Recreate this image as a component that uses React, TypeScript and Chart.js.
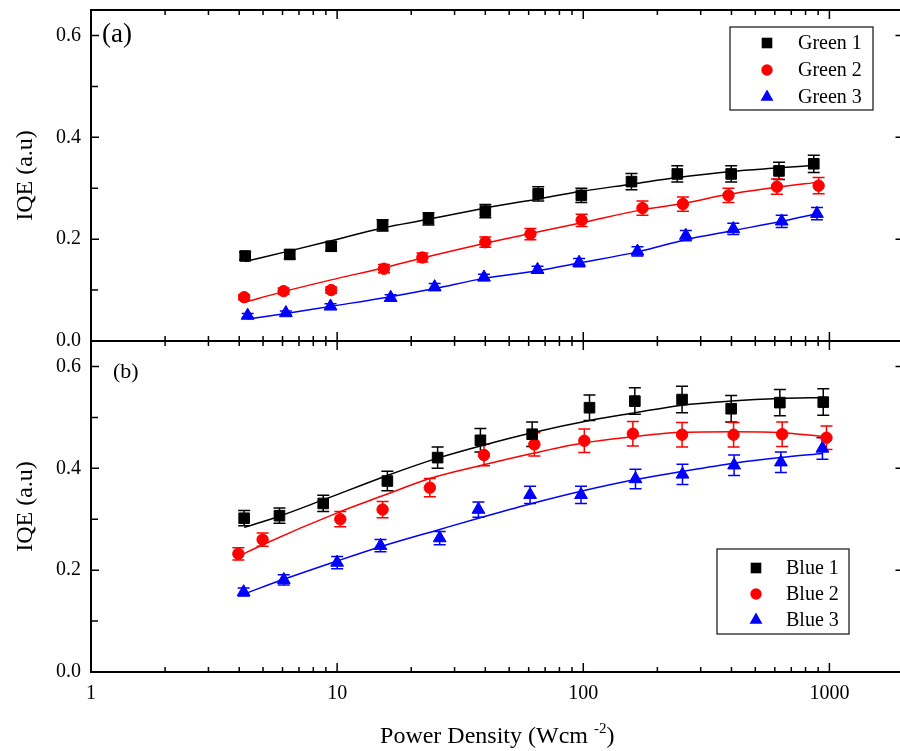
import React, { useEffect, useRef } from 'react';
import { Chart, registerables } from 'chart.js';

Chart.register(...registerables);

// ---------- data ----------
const xTickValues = [1, 10, 100, 1000];
const yTickValues = [0, 0.2, 0.4, 0.6];

// Panel (a)
const green1X = [4.23, 6.42, 9.46, 15.3, 23.5, 40.0, 65.6, 98.2, 157, 241, 399, 624, 864];
const green1Y = [0.167, 0.170, 0.186, 0.227, 0.240, 0.255, 0.289, 0.286, 0.313, 0.328, 0.328, 0.334, 0.348];
const green1Err = [0.008, 0.009, 0.009, 0.011, 0.012, 0.013, 0.014, 0.014, 0.016, 0.016, 0.016, 0.017, 0.017];
const green1Fit = [0.156, 0.177, 0.197, 0.222, 0.239, 0.261, 0.279, 0.294, 0.308, 0.321, 0.333, 0.340, 0.345];

const green2X = [4.19, 6.06, 9.46, 15.5, 22.2, 40.0, 61.0, 98.5, 174, 254, 389, 612, 904];
const green2Y = [0.086, 0.098, 0.100, 0.142, 0.164, 0.194, 0.210, 0.237, 0.261, 0.269, 0.286, 0.303, 0.305];
const green2Err = [0.005, 0.006, 0.006, 0.008, 0.009, 0.010, 0.011, 0.012, 0.014, 0.014, 0.014, 0.015, 0.016];
const green2Fit = [0.076, 0.097, 0.120, 0.144, 0.163, 0.192, 0.211, 0.232, 0.258, 0.270, 0.288, 0.302, 0.312];

const green3X = [4.33, 6.19, 9.40, 16.5, 24.9, 39.5, 65.2, 96.2, 166, 261, 407, 640, 890];
const green3Y = [0.050, 0.055, 0.068, 0.085, 0.106, 0.125, 0.140, 0.154, 0.176, 0.207, 0.220, 0.235, 0.250];
const green3Err = [0.004, 0.004, 0.005, 0.006, 0.007, 0.006, 0.007, 0.008, 0.009, 0.010, 0.011, 0.012, 0.012];
const green3Fit = [0.043, 0.054, 0.068, 0.087, 0.103, 0.123, 0.138, 0.153, 0.175, 0.199, 0.217, 0.235, 0.250];

// Panel (b)
const blue1X = [4.19, 5.83, 8.78, 16.0, 25.6, 38.2, 62.0, 106, 162, 252, 399, 629, 944];
const blue1Y = [0.302, 0.307, 0.331, 0.375, 0.421, 0.455, 0.467, 0.519, 0.532, 0.535, 0.517, 0.529, 0.530];
const blue1Err = [0.015, 0.015, 0.016, 0.019, 0.021, 0.023, 0.024, 0.025, 0.026, 0.026, 0.026, 0.026, 0.026];
const blue1Fit = [0.284, 0.306, 0.338, 0.386, 0.420, 0.444, 0.470, 0.494, 0.509, 0.524, 0.532, 0.537, 0.539];

const blue2X = [3.97, 4.98, 10.3, 15.3, 23.8, 39.5, 63.3, 101, 159, 252, 408, 643, 973];
const blue2Y = [0.232, 0.260, 0.300, 0.319, 0.362, 0.426, 0.447, 0.454, 0.468, 0.466, 0.466, 0.467, 0.460];
const blue2Err = [0.012, 0.013, 0.015, 0.016, 0.018, 0.021, 0.023, 0.023, 0.024, 0.024, 0.024, 0.024, 0.023];
const blue2Fit = [0.227, 0.250, 0.315, 0.346, 0.380, 0.407, 0.430, 0.450, 0.462, 0.471, 0.472, 0.470, 0.462];

const blue3X = [4.17, 6.07, 10.0, 15.0, 26.1, 37.5, 60.8, 97.9, 163, 253, 410, 635, 937];
const blue3Y = [0.157, 0.181, 0.215, 0.248, 0.263, 0.319, 0.348, 0.348, 0.379, 0.388, 0.406, 0.412, 0.439];
const blue3Err = [0.008, 0.010, 0.012, 0.012, 0.013, 0.015, 0.017, 0.017, 0.019, 0.020, 0.020, 0.020, 0.021];
const blue3Fit = [0.153, 0.182, 0.218, 0.246, 0.280, 0.302, 0.330, 0.355, 0.378, 0.394, 0.410, 0.421, 0.429];

const legendA = ['Green 1', 'Green 2', 'Green 3'];
const legendB = ['Blue 1', 'Blue 2', 'Blue 3'];

// ---------- styling ----------
const FONT = "'Liberation Serif', 'Times New Roman', serif";
const COLORS = ['#000000', '#ff0000', '#0000ff'];
const STYLES = ['rect', 'circle', 'triangle'] as const;
const RADII = [7.5, 5.7, 7.4];
const CW = 912;
const CH = 751;
const AREA_RIGHT = 906;

const pts = (xs: number[], ys: number[]) => xs.map((x, i) => ({ x, y: ys[i] }));

function drawMarker(ctx: CanvasRenderingContext2D, style: string, x: number, y: number, r: number, color: string) {
  ctx.save();
  ctx.fillStyle = color;
  ctx.beginPath();
  if (style === 'rect') {
    const s = Math.SQRT1_2 * r;
    ctx.rect(x - s, y - s, 2 * s, 2 * s);
  } else if (style === 'circle') {
    ctx.arc(x, y, r, 0, Math.PI * 2);
  } else {
    let a = 0;
    ctx.moveTo(x + Math.sin(a) * r, y - Math.cos(a) * r);
    a += (2 * Math.PI) / 3;
    ctx.lineTo(x + Math.sin(a) * r, y - Math.cos(a) * r);
    a += (2 * Math.PI) / 3;
    ctx.lineTo(x + Math.sin(a) * r, y - Math.cos(a) * r);
    ctx.closePath();
  }
  ctx.fill();
  ctx.restore();
}

const errorBarPlugin = {
  id: 'errorBars',
  beforeDatasetsDraw(chart: any) {
    const ctx = chart.ctx;
    chart.data.datasets.forEach((ds: any, i: number) => {
      if (!ds.errors) return;
      const meta = chart.getDatasetMeta(i);
      const ys = chart.scales[ds.yAxisID];
      ctx.save();
      ctx.strokeStyle = ds.borderColor;
      ctx.lineWidth = 1.5;
      meta.data.forEach((el: any, j: number) => {
        const v = ds.data[j].y;
        const e = ds.errors[j];
        const y1 = ys.getPixelForValue(v + e);
        const y2 = ys.getPixelForValue(v - e);
        const x = el.x;
        ctx.beginPath();
        ctx.moveTo(x, y1);
        ctx.lineTo(x, y2);
        ctx.moveTo(x - 6, y1);
        ctx.lineTo(x + 6, y1);
        ctx.moveTo(x - 6, y2);
        ctx.lineTo(x + 6, y2);
        ctx.stroke();
      });
      ctx.restore();
    });
  },
};

const framePlugin = {
  id: 'frameTicks',
  afterDraw(chart: any) {
    const ctx = chart.ctx;
    const ca = chart.chartArea;
    const xs = chart.scales.x;
    const panels = [chart.scales.yA, chart.scales.yB];
    ctx.save();
    ctx.strokeStyle = '#000';
    // ticks
    ctx.lineWidth = 1.5;
    ctx.beginPath();
    panels.forEach((p: any) => {
      for (let d = 1; d <= 1000; d *= 10) {
        for (let m = 1; m <= 9; m++) {
          const v = m * d;
          if (v > 2000) break;
          const px = xs.getPixelForValue(v);
          const len = m === 1 ? 9 : 5;
          ctx.moveTo(px, p.top);
          ctx.lineTo(px, p.top + len);
          ctx.moveTo(px, p.bottom);
          ctx.lineTo(px, p.bottom - len);
        }
      }
      for (let k = 1; k <= 6; k++) {
        const v = k / 10;
        const py = p.getPixelForValue(v);
        const major = k % 2 === 0;
        ctx.moveTo(ca.left, py);
        ctx.lineTo(ca.left + (major ? 8 : 7), py);
        if (major) {
          ctx.moveTo(ca.right, py);
          ctx.lineTo(ca.right - 8, py);
        }
      }
    });
    ctx.stroke();
    // frames
    ctx.lineWidth = 2;
    panels.forEach((p: any) => {
      ctx.strokeRect(ca.left, p.top, ca.right - ca.left, p.bottom - p.top);
    });

    // panel labels
    ctx.fillStyle = '#000';
    ctx.textBaseline = 'middle';
    ctx.textAlign = 'left';
    ctx.font = `27px ${FONT}`;
    ctx.fillText('(a)', 102, 35);
    ctx.font = `22px ${FONT}`;
    ctx.fillText('(b)', 113, 372);

    // legends
    const drawLegend = (labels: string[], box: number[], mx: number, tx: number, rows: number[]) => {
      ctx.lineWidth = 1.3;
      ctx.strokeStyle = '#222';
      ctx.strokeRect(box[0], box[1], box[2] - box[0], box[3] - box[1]);
      ctx.font = `20px ${FONT}`;
      labels.forEach((lab, i) => {
        drawMarker(ctx, STYLES[i], mx, rows[i], RADII[i], COLORS[i]);
        ctx.fillStyle = '#000';
        ctx.fillText(lab, tx, rows[i] + 1);
      });
    };
    drawLegend(legendA, [730, 27, 873, 110], 767, 798, [43, 70, 97]);
    drawLegend(legendB, [717, 549, 849, 634], 756, 786, [568, 594, 620]);

    // x-axis title with superscript
    const cx = (ca.left + ca.right) / 2;
    const base = 743;
    const t1 = 'Power Density (Wcm ';
    const t2 = '-2';
    const t3 = ')';
    ctx.textBaseline = 'alphabetic';
    ctx.font = `24px ${FONT}`;
    const w1 = ctx.measureText(t1).width;
    const w3 = ctx.measureText(t3).width;
    ctx.font = `15px ${FONT}`;
    const w2 = ctx.measureText(t2).width;
    let sx = cx - (w1 + w2 + w3) / 2;
    ctx.font = `24px ${FONT}`;
    ctx.fillText(t1, sx, base);
    sx += w1;
    ctx.font = `15px ${FONT}`;
    ctx.fillText(t2, sx, base - 10);
    sx += w2;
    ctx.font = `24px ${FONT}`;
    ctx.fillText(t3, sx, base);
    ctx.restore();
  },
};

const bgPlugin = {
  id: 'bg',
  beforeDraw(chart: any) {
    const ctx = chart.ctx;
    ctx.save();
    ctx.fillStyle = '#fff';
    ctx.fillRect(0, 0, chart.width, chart.height);
    ctx.restore();
  },
};

function makeY() {
  return {
    type: 'linear' as const,
    position: 'left' as const,
    stack: 'panels',
    stackWeight: 1,
    min: 0,
    max: 0.65,
    grid: { display: false, drawTicks: false },
    border: { display: false },
    ticks: {
      color: '#000',
      font: { family: FONT, size: 20 },
      padding: 10,
      callback: (v: any) => Number(v).toFixed(1),
    },
    afterBuildTicks: (s: any) => {
      s.ticks = yTickValues.map((v) => ({ value: v }));
    },
    afterFit: (s: any) => {
      s.width = 91;
      s.paddingTop = 0;
      s.paddingBottom = 0;
    },
    title: {
      display: true,
      text: 'IQE (a.u)',
      color: '#000',
      font: { family: FONT, size: 24 },
      padding: { top: 11, bottom: 0 },
    },
  };
}

export default function App() {
  const ref = useRef<HTMLCanvasElement>(null);
  useEffect(() => {
    document.body.style.margin = '0';
    const canvas = ref.current!;
    const series = [
      { label: legendA[0], x: green1X, y: green1Y, e: green1Err, f: green1Fit, axis: 'yA', k: 0 },
      { label: legendA[1], x: green2X, y: green2Y, e: green2Err, f: green2Fit, axis: 'yA', k: 1 },
      { label: legendA[2], x: green3X, y: green3Y, e: green3Err, f: green3Fit, axis: 'yA', k: 2 },
      { label: legendB[0], x: blue1X, y: blue1Y, e: blue1Err, f: blue1Fit, axis: 'yB', k: 0 },
      { label: legendB[1], x: blue2X, y: blue2Y, e: blue2Err, f: blue2Fit, axis: 'yB', k: 1 },
      { label: legendB[2], x: blue3X, y: blue3Y, e: blue3Err, f: blue3Fit, axis: 'yB', k: 2 },
    ];
    const datasets: any[] = [];
    series.forEach((s) => {
      datasets.push({
        type: 'line',
        label: s.label,
        data: pts(s.x, s.y),
        errors: s.e,
        yAxisID: s.axis,
        xAxisID: 'x',
        showLine: false,
        pointStyle: STYLES[s.k],
        pointRadius: RADII[s.k],
        pointBorderWidth: 1,
        pointBackgroundColor: COLORS[s.k],
        pointBorderColor: COLORS[s.k],
        borderColor: COLORS[s.k],
        backgroundColor: COLORS[s.k],
        order: 1,
      });
      datasets.push({
        type: 'line',
        label: s.label + ' fit',
        data: pts(s.x, s.f),
        yAxisID: s.axis,
        xAxisID: 'x',
        pointRadius: 0,
        borderWidth: 1.5,
        borderColor: COLORS[s.k],
        cubicInterpolationMode: 'monotone',
        fill: false,
        order: 2,
      });
    });

    const chart = new Chart(canvas, {
      type: 'line',
      data: { datasets },
      options: {
        responsive: false,
        maintainAspectRatio: false,
        devicePixelRatio: 1,
        animation: false,
        layout: { padding: { top: 10, right: CW - AREA_RIGHT, left: 0, bottom: 0 } },
        plugins: {
          legend: { display: false },
          tooltip: { enabled: false },
        },
        scales: {
          x: {
            type: 'logarithmic',
            position: 'bottom',
            min: 1,
            max: 2000,
            grid: { display: false, drawTicks: false },
            border: { display: false },
            ticks: {
              color: '#000',
              font: { family: FONT, size: 20 },
              padding: 10,
              maxRotation: 0,
              autoSkip: false,
              callback: (v: any) => String(v),
            },
            afterBuildTicks: (s: any) => {
              s.ticks = xTickValues.map((v) => ({ value: v }));
            },
            afterFit: (s: any) => {
              s.height = 79;
              s.paddingLeft = 0;
              s.paddingRight = 0;
            },
          },
          yB: makeY() as any,
          yA: makeY() as any,
        },
      } as any,
      plugins: [bgPlugin, errorBarPlugin, framePlugin],
    });
    return () => chart.destroy();
  }, []);
  return (
    <div style={{ width: 900, height: CH, overflow: 'hidden', position: 'relative', background: '#fff' }}>
      <canvas ref={ref} width={CW} height={CH} style={{ display: 'block', width: CW, height: CH }} />
    </div>
  );
}
